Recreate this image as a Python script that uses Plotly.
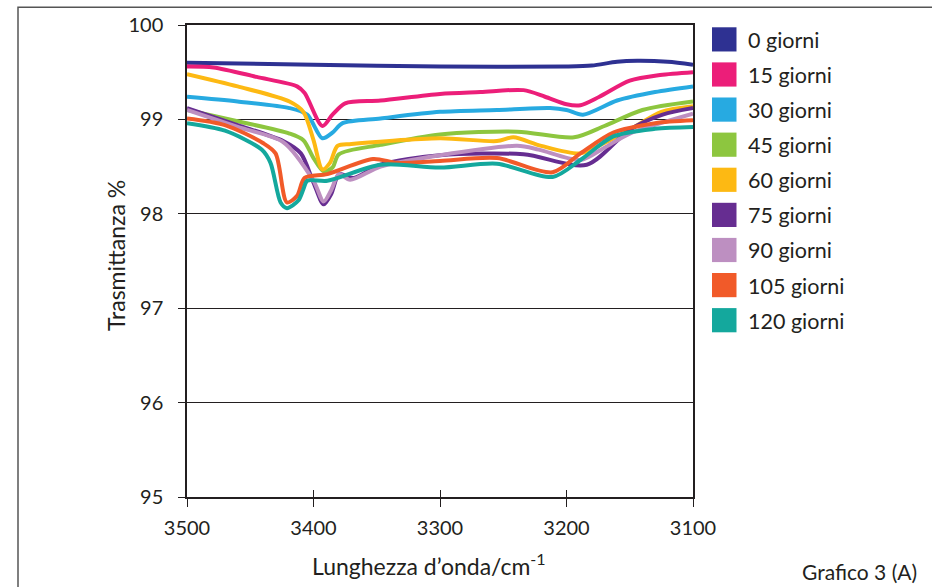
import plotly.graph_objects as go

# Series labels and colours
labels = ["0 giorni", "15 giorni", "30 giorni", "45 giorni", "60 giorni",
          "75 giorni", "90 giorni", "105 giorni", "120 giorni"]
colors = ["#2E3192", "#EC1E79", "#27AAE1", "#8DC63F", "#FDB913",
          "#662D91", "#BD8FC1", "#F15A29", "#14A89D"]

# Wavenumber (cm-1) and transmittance (%) for each ageing time
wn_0 = [3500, 3400, 3300, 3200, 3180, 3160, 3144, 3120, 3100]
tr_0 = [99.60, 99.58, 99.56, 99.56, 99.57, 99.61, 99.62, 99.61, 99.58]

wn_15 = [3500, 3479, 3445, 3413, 3407, 3393, 3385, 3375, 3347, 3300, 3268, 3234,
         3217, 3200, 3189, 3174, 3150, 3126, 3100]
tr_15 = [99.56, 99.55, 99.45, 99.35, 99.28, 98.93, 99.05, 99.17, 99.20, 99.27, 99.29, 99.31,
         99.24, 99.16, 99.15, 99.24, 99.41, 99.47, 99.50]

wn_30 = [3500, 3460, 3419, 3405, 3393, 3385, 3377, 3347, 3300, 3255, 3213, 3200,
         3187, 3160, 3130, 3100]
tr_30 = [99.24, 99.19, 99.12, 99.05, 98.80, 98.86, 98.96, 99.01, 99.08, 99.10, 99.12, 99.10,
         99.05, 99.20, 99.29, 99.35]

wn_45 = [3500, 3460, 3419, 3408, 3400, 3392, 3385, 3380, 3347, 3300, 3239, 3194,
         3170, 3140, 3100]
tr_45 = [99.10, 98.98, 98.85, 98.78, 98.59, 98.45, 98.49, 98.63, 98.73, 98.84, 98.87, 98.81,
         98.93, 99.10, 99.19]

wn_60 = [3500, 3460, 3419, 3408, 3400, 3393, 3387, 3381, 3370, 3300, 3255, 3242,
         3220, 3189, 3170, 3150, 3125, 3100]
tr_60 = [99.48, 99.35, 99.19, 99.08, 98.78, 98.47, 98.54, 98.72, 98.74, 98.80, 98.77, 98.81,
         98.72, 98.64, 98.75, 98.89, 99.08, 99.14]

wn_75 = [3500, 3460, 3424, 3410, 3400, 3392, 3386, 3380, 3374, 3368, 3347, 3300,
         3234, 3184, 3150, 3124, 3100]
tr_75 = [99.12, 98.94, 98.77, 98.64, 98.33, 98.10, 98.21, 98.42, 98.40, 98.38, 98.52, 98.62,
         98.63, 98.52, 98.89, 99.05, 99.12]

wn_90 = [3500, 3460, 3424, 3400, 3392, 3386, 3380, 3371, 3347, 3300, 3239, 3222,
         3189, 3170, 3150, 3100]
tr_90 = [99.10, 98.92, 98.76, 98.35, 98.13, 98.25, 98.42, 98.36, 98.50, 98.62, 98.72, 98.68,
         98.57, 98.70, 98.85, 99.06]

wn_105 = [3500, 3470, 3440, 3430, 3421, 3413, 3407, 3389, 3353, 3334, 3300, 3255,
          3211, 3189, 3163, 3130, 3100]
tr_105 = [99.01, 98.94, 98.75, 98.64, 98.12, 98.19, 98.38, 98.42, 98.58, 98.54, 98.56, 98.59,
          98.44, 98.64, 98.86, 98.96, 98.99]

wn_120 = [3500, 3470, 3441, 3434, 3426, 3421, 3412, 3408, 3405, 3389, 3347, 3300,
          3255, 3211, 3189, 3163, 3130, 3100]
tr_120 = [98.96, 98.88, 98.68, 98.54, 98.12, 98.06, 98.14, 98.26, 98.35, 98.35, 98.52, 98.49,
          98.53, 98.39, 98.57, 98.82, 98.90, 98.92]

wavenumbers = [wn_0, wn_15, wn_30, wn_45, wn_60, wn_75, wn_90, wn_105, wn_120]
transmittance = [tr_0, tr_15, tr_30, tr_45, tr_60, tr_75, tr_90, tr_105, tr_120]

y_ticks = [95, 96, 97, 98, 99, 100]
x_ticks = [3500, 3400, 3300, 3200, 3100]

FONT = "Lato"
INK = "#231F20"

fig = go.Figure()
for name, col, xs, ys in zip(labels, colors, wavenumbers, transmittance):
    fig.add_trace(go.Scatter(
        x=xs, y=ys, name=name, mode="lines",
        line=dict(color=col, width=4, shape="spline", smoothing=0.8),
        showlegend=False, hoverinfo="skip",
    ))

# Invisible trace so the secondary x axis (inner tick marks) is drawn
fig.add_trace(go.Scatter(x=[x_ticks[0]], y=[y_ticks[0]], xaxis="x2", mode="markers",
                         marker=dict(opacity=0), showlegend=False, hoverinfo="skip"))

W, H = 932, 587
L, R, T, B = 187, 239, 21, 90
pw, ph = W - L - R, H - T - B


def px_x(p):
    return (p - L) / pw


def px_y(p):
    return (H - B - p) / ph


# Legend: colour squares with labels
shapes = []
annotations = []
row0, step = 35.5, 35.4
for i, (name, col) in enumerate(zip(labels, colors)):
    cy = row0 + i * step
    shapes.append(dict(type="rect", xref="paper", yref="paper",
                       x0=px_x(712), x1=px_x(736.5),
                       y0=px_y(cy + 12.2), y1=px_y(cy - 12.2),
                       fillcolor=col, line=dict(width=0)))
    annotations.append(dict(text=name, xref="paper", yref="paper",
                            x=px_x(746), y=px_y(cy + 0.5), xanchor="left", yanchor="middle",
                            showarrow=False, font=dict(family=FONT, size=21.5, color=INK)))

# Frame round the whole figure
shapes.append(dict(type="rect", xref="paper", yref="paper",
                   x0=px_x(18), x1=px_x(945), y0=px_y(600), y1=px_y(3),
                   line=dict(color="#555555", width=1.5), fillcolor="rgba(0,0,0,0)"))

annotations += [
    dict(text="Trasmittanza %", xref="paper", yref="paper", x=px_x(116), y=px_y(254),
         textangle=-90, showarrow=False, xanchor="center", yanchor="middle",
         font=dict(family=FONT, size=23, color=INK)),
    dict(text="Lunghezza d’onda/cm<sup>-1</sup>", xref="paper", yref="paper",
         x=px_x(429), y=px_y(565), showarrow=False, xanchor="center", yanchor="middle",
         font=dict(family=FONT, size=23, color=INK)),
    dict(text="Grafico 3 (A)", xref="paper", yref="paper", x=px_x(859.5), y=px_y(572),
         showarrow=False, xanchor="center", yanchor="middle",
         font=dict(family=FONT, size=21, color=INK)),
]

fig.update_layout(
    width=W, height=H,
    margin=dict(l=L, r=R, t=T, b=B, pad=0),
    paper_bgcolor="white", plot_bgcolor="white",
    showlegend=False,
    font=dict(family=FONT, size=20, color=INK),
    xaxis=dict(range=[3500, 3100], tickvals=x_ticks, ticks="outside", ticklen=8,
               tickwidth=1.3, tickcolor=INK, showgrid=False, zeroline=False,
               showline=True, linecolor=INK, linewidth=1.5, mirror=True,
               ticklabelstandoff=4, tickfont=dict(family=FONT, size=20, color=INK)),
    xaxis2=dict(range=[3500, 3100], tickvals=x_ticks, overlaying="x", anchor="y",
                side="bottom", ticks="inside", ticklen=7, tickwidth=1.3, tickcolor=INK,
                showticklabels=False, showgrid=False, zeroline=False, showline=False),
    yaxis=dict(range=[95, 100], tickvals=y_ticks, ticks="outside", ticklen=7,
               tickwidth=1.3, tickcolor=INK, showgrid=True, gridcolor=INK, gridwidth=1.2,
               zeroline=False, showline=True, linecolor=INK, linewidth=1.5, mirror=True,
               ticklabelstandoff=11, tickfont=dict(family=FONT, size=20, color=INK)),
    shapes=shapes,
    annotations=annotations,
)

fig.write_html("out.html")
